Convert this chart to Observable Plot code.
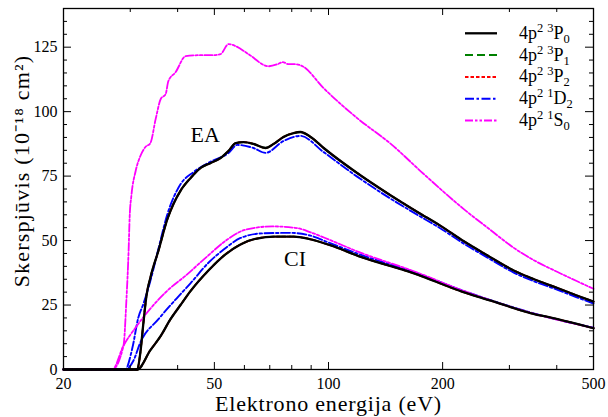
<!DOCTYPE html>
<html><head><meta charset="utf-8">
<script src="https://cdn.jsdelivr.net/npm/d3@7"></script>
<script src="https://cdn.jsdelivr.net/npm/@observablehq/plot@0.6"></script>
<style>
body{margin:0;background:#fff}
#chart{width:608px;height:417px}
</style>
</head><body><div id="chart"></div>
<script>
// ---------- data ----------
// Excitation-autoionization (EA), per initial state
const ea3P0 = [[20,0],[31.3,0],[31.9,6.6],[32.5,18.2],[33.1,28.6],[33.9,35.6],[35.6,46.1],[37.6,58.4],[39.0,64.2],[40.7,69.3],[43.3,74.3],[46.0,78.2],[48.9,80.1],[51.9,82.0],[54.5,84.8],[56.9,87.8],[59.7,88.2],[63.4,87.5],[68.2,85.9],[71.7,87.5],[76.1,90.2],[80.9,91.7],[84.3,92.1],[89.7,90.2],[97.1,85.9],[119,76.2],[146,67.5],[172,61.0],[198,55.6],[227,49.8],[260,44.6],[308,38.4],[350,34.9],[402,31.6],[450,28.8],[500,26.3]];
const ea3P1 = ea3P0; // indistinguishable from 3P0 in the picture
const ea3P2 = ea3P0; // indistinguishable from 3P0 in the picture
const ea1D2 = [[20,0],[29.1,0],[30.4,8.5],[31.5,20.1],[32.5,25.5],[33.9,34.4],[35.6,46.8],[37.6,60.3],[40.7,71.8],[44.1,76.6],[48.9,80.6],[54.5,84.0],[57.5,87.1],[63.4,85.9],[68.2,84.0],[76.1,88.6],[84.3,90.6],[97.1,84.3],[119,74.8],[146,66.2],[172,59.9],[198,54.6],[227,48.9],[260,43.8],[308,37.6],[350,34.1],[402,30.9],[450,28.1],[500,25.6]];
const ea1S0 = [[20,0],[26.9,0],[28.8,9.3],[29.3,26.7],[29.7,46.1],[29.9,59.6],[30.2,67.3],[31.0,77.0],[31.9,82.8],[32.9,86.3],[33.9,87.8],[35.0,97.1],[36.1,104.9],[37.2,106.8],[37.8,111.8],[39.5,115.3],[42.0,121.5],[46.0,121.9],[49.5,121.9],[51.9,122.3],[54.5,126.2],[56.9,125.4],[61.5,122.3],[69.5,117.6],[73.4,118.4],[75.7,119.2],[78.5,118.4],[81.9,118.4],[85.4,117.6],[97.1,109.1],[119,97.5],[146,87.5],[178,75.9],[227,62.3],[268,54.0],[308,47.2],[350,42.2],[402,37.8],[450,34.4],[500,31.3]];
// Direct ionization (CI)
const ci3P0 = [[20,0],[31.3,0],[33.9,7.5],[36.1,13.0],[38.3,19.5],[40.7,25.0],[43.3,30.5],[48.3,38.5],[53.0,44.2],[58.6,48.5],[64.7,50.8],[72.0,51.5],[80.9,51.5],[101,48.2],[120,44.0],[168,37.3],[227,30.0],[268,26.7],[341,21.9],[402,19.5],[500,16.0]];
const ci3P1 = ci3P0; // indistinguishable from 3P0 in the picture
const ci3P2 = ci3P0; // indistinguishable from 3P0 in the picture
const ci1D2 = [[20,0],[29.1,0],[30.6,3.5],[31.9,10.5],[35.6,19.5],[40.0,28.0],[43.3,33.5],[48.3,41.5],[52.9,46.5],[58.6,51.0],[67.0,52.8],[79.4,53.0],[89.7,51.9],[101,49.0],[120,44.8],[168,37.8],[227,30.5],[341,22.1],[500,16.2]];
const ci1S0 = [[20,0],[26.9,0],[28.8,9.3],[31.0,16.3],[33.9,23.6],[37.6,30.6],[42.0,36.4],[47.4,43.3],[54.2,50.5],[60.4,54.2],[71.2,55.5],[82.9,54.8],[89.7,53.2],[101,50.2],[120,45.6],[168,38.1],[227,30.5],[341,22.0],[500,16.1]];

const states = ["3P0","3P1","3P2","1D2","1S0"];
const multiplicity = ["3","3","3","1","1"];
const termLetter = ["P","P","P","D","S"];
const termJ = ["0","1","2","2","0"];

const xMajor = [20, 50, 100, 200, 500];
const xMinor = [30, 40, 60, 70, 80, 90, 300, 400];
const yMajor = [0, 25, 50, 75, 100, 125];
const yMinor = [5,10,15,20,30,35,40,45,55,60,65,70,80,85,90,95,105,110,115,120,130,135];

const xTitle = "Elektrono energija (eV)";
const yTitle = "Skerspjūvis (10⁻¹⁸ cm²)";
const annText = ["EA", "CI"];
const annX = [47.3, 81.6];
const annY = [90.8, 43.0];

// ---------- styles ----------
const colors = {"3P0":"#000000","3P1":"#008000","3P2":"#ff0000","1D2":"#0000ff","1S0":"#ff00ff"};
const dashes = {"3P0":null,"3P1":"8,4","3P2":"3.5,2","1D2":"9,2.5,2.5,2.5","1S0":"8,2,2.5,2,2.5,2"};
const widths = {"3P0":2.3,"3P1":1.8,"3P2":1.8,"1D2":1.9,"1S0":1.8};

const eaData = {"3P0":ea3P0,"3P1":ea3P1,"3P2":ea3P2,"1D2":ea1D2,"1S0":ea1S0};
const ciData = {"3P0":ci3P0,"3P1":ci3P1,"3P2":ci3P2,"1D2":ci1D2,"1S0":ci1S0};

const rows = [];
for (const s of states) {
  for (const [x,y] of eaData[s]) rows.push({state:s, proc:"EA", x, y});
  for (const [x,y] of ciData[s]) rows.push({state:s, proc:"CI", x, y});
}

const drawOrder = ["3P1","3P2","1D2","1S0","3P0"];
const lineMarks = drawOrder.map(s => Plot.line(rows.filter(r => r.state === s), {
  x: "x", y: "y", z: "proc", stroke: colors[s], strokeWidth: widths[s],
  strokeDasharray: dashes[s] || undefined, curve: "monotone-x", strokeLinejoin: "round"
}));

const W = 608, H = 417, mT = 8, mR = 15, mB = 48, mL = 63;
const pw = W - mL - mR, ph = H - mT - mB;

const ann = annText.map((t,i) => ({t, x: annX[i], y: annY[i]}));
const SERIF = "Liberation Serif, Times New Roman, serif";

const chart = Plot.plot({
  width: W, height: H,
  marginTop: mT, marginRight: mR, marginBottom: mB, marginLeft: mL,
  style: {fontFamily: SERIF, fontSize: "16px", color: "black", background: "white"},
  x: {type: "log", domain: [20, 500]},
  y: {domain: [0, 140]},
  marks: [
    ...lineMarks,
    Plot.ruleX(xMajor, {x: d => d, insetTop: ph - 7, stroke: "black", strokeWidth: 1}),
    Plot.ruleX(xMajor, {x: d => d, insetBottom: ph - 7, stroke: "black", strokeWidth: 1}),
    Plot.ruleX(xMinor, {x: d => d, insetTop: ph - 4, stroke: "black", strokeWidth: 1}),
    Plot.ruleX(xMinor, {x: d => d, insetBottom: ph - 4, stroke: "black", strokeWidth: 1}),
    Plot.ruleY(yMajor, {y: d => d, insetRight: pw - 8, stroke: "black", strokeWidth: 1}),
    Plot.ruleY(yMajor, {y: d => d, insetLeft: pw - 8, stroke: "black", strokeWidth: 1}),
    Plot.ruleY(yMinor, {y: d => d, insetRight: pw - 4, stroke: "black", strokeWidth: 1}),
    Plot.ruleY(yMinor, {y: d => d, insetLeft: pw - 4, stroke: "black", strokeWidth: 1}),
    Plot.frame({stroke: "black", strokeWidth: 1.3}),
    Plot.axisX(xMajor, {tickSize: 0, tickPadding: 8, tickFormat: d => String(d), label: null, fontSize: 16}),
    Plot.axisY(yMajor, {tickSize: 0, tickPadding: 6, tickFormat: d => String(d), label: null, fontSize: 16}),
    Plot.text(ann, {x: "x", y: "y", text: "t", fontSize: 22, textAnchor: "middle", lineAnchor: "middle", fill: "black"}),
    Plot.text([xTitle], {text: d => d, frameAnchor: "bottom", textAnchor: "middle", lineAnchor: "bottom", dy: 41, fontSize: 22, fill: "black"}),
    Plot.text([yTitle], {text: d => d, frameAnchor: "left", textAnchor: "middle", rotate: -90, lineAnchor: "middle", dx: -42, dy: -18, fontSize: 22, fill: "black"})
  ]
});
document.getElementById("chart").appendChild(chart);

const svg = d3.select(chart);
// widen the two titles a little (reference glyphs are wider)
svg.selectAll("text").filter(function() { return this.textContent === xTitle; })
  .style("letter-spacing", "0.8px");
svg.selectAll("text").filter(function() { return this.textContent === yTitle; })
  .style("letter-spacing", "1.2px");

// ---------- legend ----------
const lg = svg.append("g").attr("text-anchor", "start");
states.forEach((s, i) => {
  const y = 33.3 + i * 21.8;
  lg.append("line").attr("x1", 465).attr("x2", 497).attr("y1", y).attr("y2", y)
    .attr("stroke", colors[s]).attr("stroke-width", s === "3P0" ? 2.3 : 2)
    .attr("stroke-dasharray", dashes[s]);
  const t = lg.append("text").attr("x", 519).attr("y", y + 5.5)
    .attr("text-anchor", "start")
    .attr("font-size", 18)
    .attr("fill", "black");
  t.append("tspan").text("4p");
  t.append("tspan").attr("dy", -7).attr("font-size", 12.5).text("2");
  t.append("tspan").attr("dx", 4).attr("font-size", 12.5).text(multiplicity[i]);
  t.append("tspan").attr("dy", 7).text(termLetter[i]);
  t.append("tspan").attr("dy", 4).attr("font-size", 12.5).text(termJ[i]);
});
</script>
</body></html>
